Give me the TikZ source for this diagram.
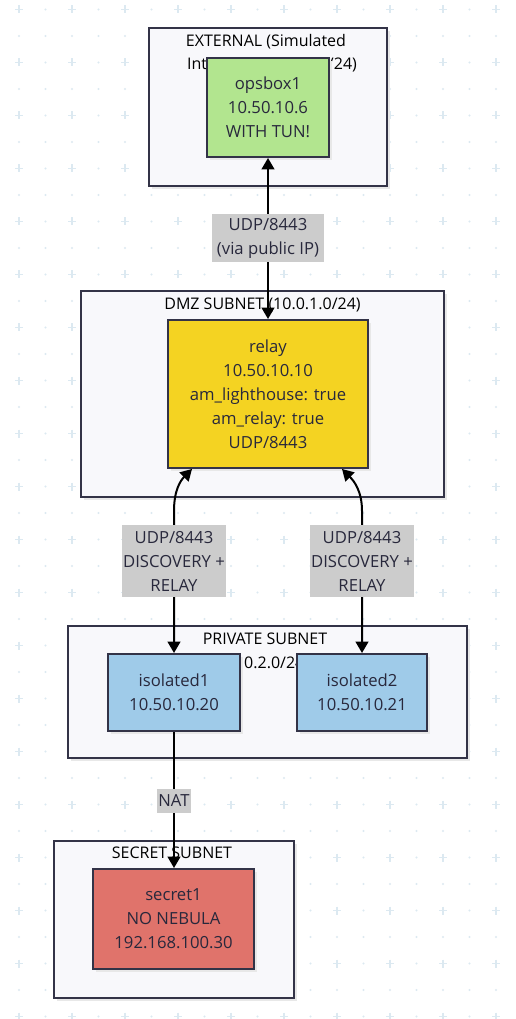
\documentclass[tikz,border=0pt]{standalone}
\usepackage{fontspec}
\setmainfont{Open Sans}
\usetikzlibrary{calc,arrows.meta,shadows}
\definecolor{gridc}{RGB}{220,233,241}
\definecolor{clbg}{RGB}{248,248,251}
\definecolor{edgec}{RGB}{51,51,71}
\definecolor{txtc}{RGB}{40,40,60}
\definecolor{greenf}{RGB}{178,229,143}
\definecolor{yellowf}{RGB}{244,211,34}
\definecolor{bluef}{RGB}{159,203,233}
\definecolor{redf}{RGB}{224,115,107}
\definecolor{lblf}{RGB}{204,204,204}
\begin{document}
\begin{tikzpicture}[x=0.75pt,y=-0.75pt,
  wd/.style={minimum width=#1*0.75pt},
  ht/.style={minimum height=#1*0.75pt},
  txt/.style={font=\fontsize{12.5}{18}\selectfont, text=txtc, align=center},
  shad/.style={drop shadow={shadow xshift=2.25pt, shadow yshift=-2.25pt, fill=black!9, opacity=1}},
  cluster/.style={draw=edgec, fill=clbg, line width=1.5pt, inner sep=0pt, shad},
  title/.style={font=\fontsize{12}{18}\selectfont, text=black, align=center, inner sep=0pt},
  box/.style={draw=edgec, line width=1.5pt, inner sep=0pt, txt, shad},
  lbl/.style={fill=lblf, inner xsep=1pt, inner ysep=0pt, txt},
  conn/.style={line width=1.5pt, draw=black},
  tips2/.style={{Triangle[length=8.5pt,width=9.5pt]}-{Triangle[length=8.5pt,width=9.5pt]}},
  tip1/.style={-{Triangle[length=8.5pt,width=9.5pt]}}
]
% background and bounding box
\fill[white] (0,0) rectangle (516,1019);
\path[use as bounding box] (0,0) rectangle (516,1019);
% dotted grid
\foreach \i in {0,...,18} {
  \foreach \j in {0,...,38} {
    \fill[gridc] (19+26.5*\i, 9.5+26.5*\j) circle (1.2);
  }
}
\foreach \i in {0,...,9} {
  \foreach \j in {0,...,19} {
    \draw[gridc, line width=1.3pt] (19+53*\i-4, 9.5+53*\j) -- ++(8,0)
      (19+53*\i, 9.5+53*\j-4) -- ++(0,8);
  }
}
% clusters
\node[cluster, wd=238, ht=158] (ext) at (268,107) {};
\node[cluster, wd=363, ht=206] (dmz) at (262.5,394) {};
\node[cluster, wd=399, ht=132] (priv) at (267.5,692) {};
\node[cluster, wd=240, ht=157] (sec) at (174,919.5) {};
% cluster titles
\node[title] (extT) at (266,42) {EXTERNAL (Simulated};
\node[title] (extT2) at (272,65) {Internet 172.16.0.0/24)};
\node[title] (dmzT) at (262.5,305) {DMZ SUBNET (10.0.1.0/24)};
\node[title] (privT) at (265,639) {PRIVATE SUBNET};
\node[title] (privT2) at (263,664) {(10.0.2.0/24)};
\node[title] (secT) at (172,853) {SECRET SUBNET};
% nodes
\node[box, fill=greenf, wd=122, ht=99] (opsbox1) at (268,107.5) {opsbox1\\10.50.10.6\\WITH TUN!};
\node[box, fill=yellowf, wd=200, ht=148] (relay) at (268,394) {relay\\10.50.10.10\\am\_lighthouse: true\\am\_relay: true\\UDP/8443};
\node[box, fill=bluef, wd=132, ht=77] (isolated1) at (174,692.5) {isolated1\\10.50.10.20};
\node[box, fill=bluef, wd=130, ht=77] (isolated2) at (362,692.5) {isolated2\\10.50.10.21};
\node[box, fill=redf, wd=161, ht=100] (secret1) at (173.5,919) {secret1\\NO NEBULA\\192.168.100.30};
% helper coordinates
\coordinate (b1) at (isolated1.north |- relay.south);
\coordinate (b2) at (isolated2.north |- relay.south);
% connectors
\draw[conn, tips2] (opsbox1.south) -- (relay.north);
\draw[conn, tips2] ($(relay.south)+(-76,0)$) .. controls +(-12,12) and +(0,-20) .. ($(b1)+(0,42)$) -- (isolated1.north);
\draw[conn, tips2] ($(relay.south)+(74,0)$) .. controls +(12,12) and +(0,-20) .. ($(b2)+(0,42)$) -- (isolated2.north);
\draw[conn, tip1] (isolated1.south) -- (isolated1.south |- secret1.north);
% edge labels
\node[lbl, wd=112, ht=48] (l1) at ($(opsbox1.south)!0.5!(relay.north)$) {UDP/8443\\(via public IP)};
\node[lbl, wd=100, ht=72] (l2) at ($(isolated1.north)+(0,-92)$) {UDP/8443\\DISCOVERY +\\RELAY};
\node[lbl, wd=100, ht=72] (l3) at ($(isolated2.north)+(0,-92)$) {UDP/8443\\DISCOVERY +\\RELAY};
\node[lbl, wd=29, ht=24] (l4) at ($(isolated1.south)+(0,69)$) {NAT};
\end{tikzpicture}
\end{document}
